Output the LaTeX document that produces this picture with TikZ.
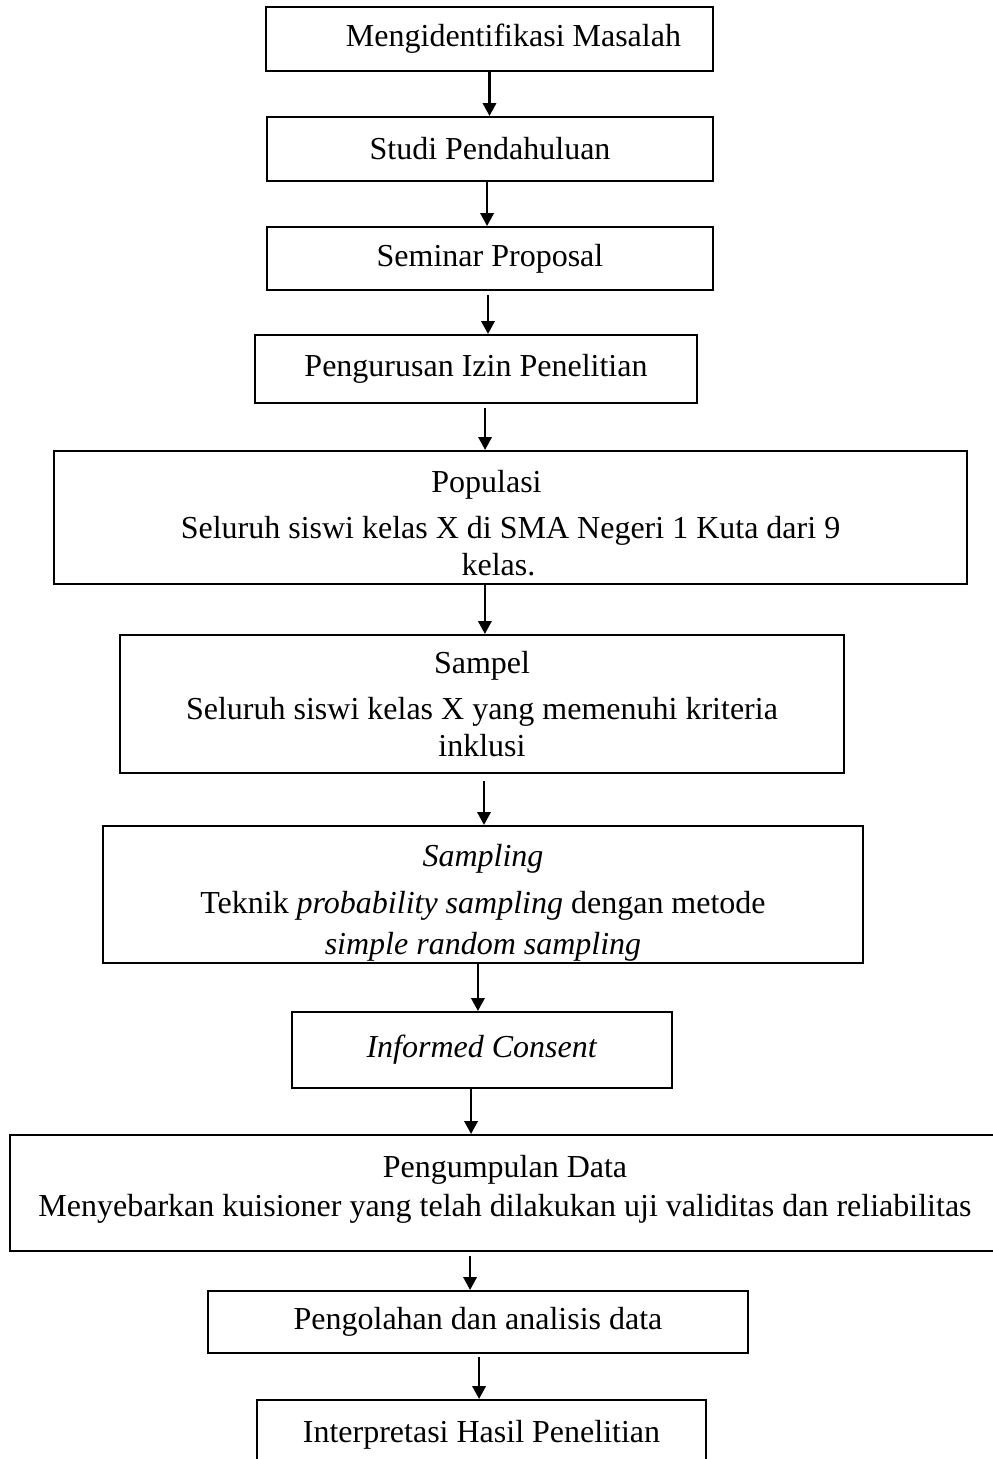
\documentclass[tikz,border=0pt]{standalone}
\usepackage{fontspec}
\setmainfont{Liberation Serif}
\usetikzlibrary{arrows.meta}

\begin{document}
\begin{tikzpicture}[x=0.375pt, y=-0.375pt,
    stage/.style={draw, line width=0.8pt, align=center, inner sep=0pt,
        font=\fontsize{12pt}{13.9pt}\selectfont},
    flow/.style={line width=0.8pt, -{Triangle[length=4.8pt, width=5pt]}}]

    \useasboundingbox (0,0) rectangle (992,1459);

    \node (ident) [stage, minimum width=167.6pt, minimum height=24pt] at (489.5,39) {\hspace*{18pt}Mengidentifikasi Masalah};
    \node (studi) [stage, minimum width=167.25pt, minimum height=24pt] at (490,149) {Studi Pendahuluan};
    \node (semprop) [stage, minimum width=167.25pt, minimum height=23.6pt] at (490,258.5) {Seminar Proposal};
    \node (izin) [stage, minimum width=165.75pt, minimum height=25.5pt] at (476,369) {Pengurusan Izin Penelitian};
    \node (populasi) [stage, minimum width=342.4pt, minimum height=49.9pt] at (510.5,517.5)
        {\rule{0pt}{12.7pt}Populasi\hspace*{18pt}\\[3.5pt] Seluruh siswi kelas X di SMA Negeri 1 Kuta dari 9\\ kelas.\hspace*{9pt}};
    \node (sampel) [stage, minimum width=271.5pt, minimum height=51.75pt] at (482,704)
        {Sampel\\[3.5pt] Seluruh siswi kelas X yang memenuhi kriteria\\ inklusi};
    \node (sampling) [stage, minimum width=285pt, minimum height=51.4pt] at (483,894.5)
        {\rule{0pt}{14.5pt}\textit{Sampling}\\[3.5pt] Teknik \textit{probability sampling} dengan metode\\[1.5pt] \textit{simple random sampling}};
    \node (consent) [stage, minimum width=142.5pt, minimum height=28.5pt] at (482,1050) {\textit{Informed Consent}\rule[-3pt]{0pt}{3pt}};
    \node (kumpul) [stage, minimum width=371.25pt, minimum height=43.5pt] at (505,1193)
        {Pengumpulan Data\\[0.75pt] Menyebarkan kuisioner yang telah dilakukan uji validitas dan reliabilitas\rule[-5pt]{0pt}{5pt}};
    \node (olah) [stage, minimum width=202.5pt, minimum height=23.25pt] at (478,1322) {Pengolahan dan analisis data};
    \node (hasil) [stage, minimum width=168.4pt, minimum height=26.25pt] at (481.5,1435) {Interpretasi Hasil Penelitian};

    \draw[flow] (ident.south) -- (ident.south |- studi.north);
    \draw[flow] ([xshift=-1.1pt]studi.south) -- ([xshift=-1.1pt]studi.south |- semprop.north);
    \draw[flow, shorten <=1.5pt] ([xshift=-0.75pt]semprop.south) -- ([xshift=-0.75pt]semprop.south |- izin.north);
    \draw[flow, shorten <=1.5pt] ([xshift=3.4pt]izin.south) -- ([xshift=3.4pt]izin.south |- populasi.north);
    \draw[flow] ([xshift=-9.6pt]populasi.south) -- ([xshift=-9.6pt]populasi.south |- sampel.north);
    \draw[flow, shorten <=2.6pt] ([xshift=0.75pt]sampel.south) -- ([xshift=0.75pt]sampel.south |- sampling.north);
    \draw[flow] ([xshift=-1.9pt]sampling.south) -- ([xshift=-1.9pt]sampling.south |- consent.north);
    \draw[flow] ([xshift=-4.1pt]consent.south) -- ([xshift=-4.1pt]consent.south |- kumpul.north);
    \draw[flow, shorten <=1.5pt] ([xshift=-13.1pt]kumpul.south) -- ([xshift=-13.1pt]kumpul.south |- olah.north);
    \draw[flow, shorten <=1pt] ([xshift=0.4pt]olah.south) -- ([xshift=0.4pt]olah.south |- hasil.north);

\end{tikzpicture}
\end{document}
